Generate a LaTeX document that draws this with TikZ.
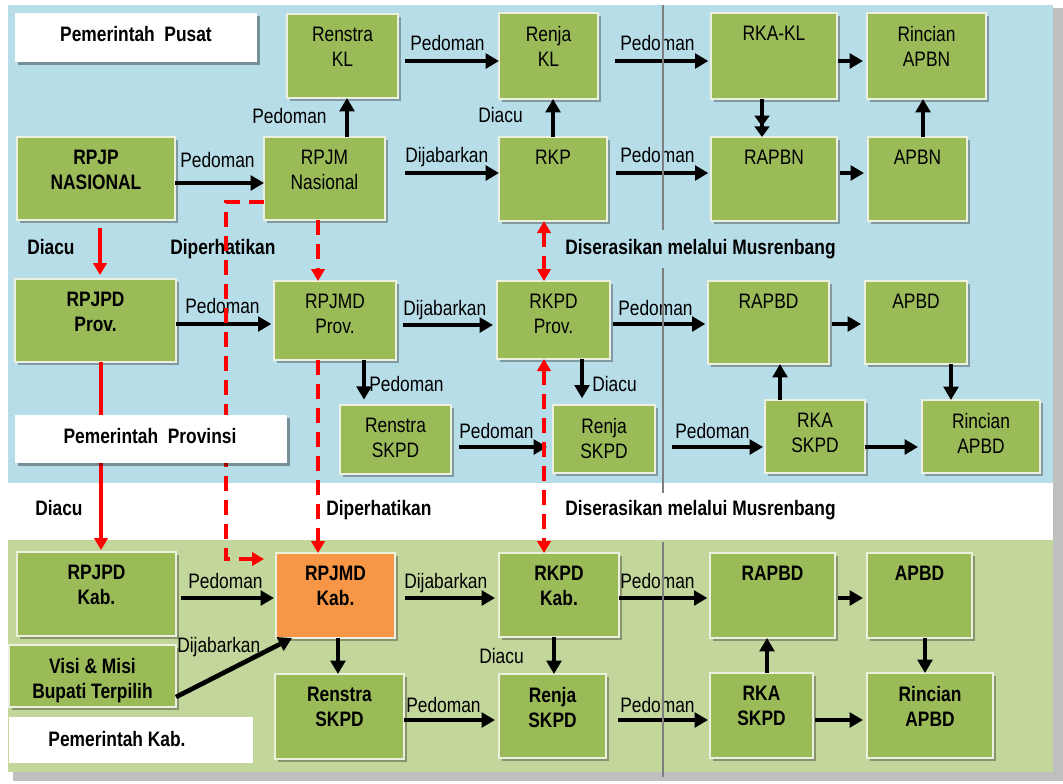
\documentclass[tikz,border=0pt]{standalone}
\usepackage{fontspec}
\setmainfont{Liberation Sans}[FakeStretch=0.83]
\usetikzlibrary{arrows.meta,fit,calc,shadows}
\definecolor{bgblue}{RGB}{183,221,232}
\definecolor{bggreen}{RGB}{195,214,155}
\definecolor{boxgreen}{RGB}{155,187,89}
\definecolor{boxedge}{RGB}{235,241,222}
\definecolor{boxorange}{RGB}{247,150,70}
\definecolor{shadowgray}{RGB}{191,191,191}
\definecolor{divgray}{RGB}{127,127,127}
\definecolor{redline}{RGB}{255,0,0}
\newcommand{\dgfont}{\fontsize{15.7pt}{18.8pt}\selectfont}
\newcommand{\mkbox}[7][box]{%
  \node[#1, fit={(#3,#4) (#5,#6)}] (#2) {};
  \node[#1txt] (#2-t) at ($(#2.north)+(0,13)$) {#7};}
\begin{document}
\begin{tikzpicture}[x=0.75pt,y=-0.75pt,
  box/.style={fill=boxgreen, draw=boxedge, line width=1.5pt, inner sep=0pt, outer sep=0pt,
    drop shadow={shadow xshift=2pt, shadow yshift=-2pt, fill=black, opacity=0.3}},
  kbox/.style={box},
  obox/.style={box, fill=boxorange},
  boxtxt/.style={anchor=north, align=center, inner sep=0pt, font=\dgfont},
  kboxtxt/.style={boxtxt, font=\dgfont\bfseries},
  oboxtxt/.style={kboxtxt},
  lbl/.style={anchor=base west, inner sep=0pt, font=\dgfont},
  blbl/.style={anchor=base west, inner sep=0pt, font=\dgfont\bfseries},
  pembox/.style={fill=white, inner sep=0pt, outer sep=0pt,
    drop shadow={shadow xshift=2.5pt, shadow yshift=-2.5pt, fill=black, opacity=0.35}},
  pembox0/.style={fill=white, inner sep=0pt, outer sep=0pt},
  arr/.style={line width=3.5pt, -{Triangle[length=10pt,width=11pt]}},
  arr2/.style={line width=3.5pt, -{Triangle[length=8pt,width=11pt] Triangle[length=8pt,width=11pt]}},
  redarr/.style={draw=redline, line width=3pt, -{Triangle[length=9pt,width=10pt]}},
  reddash/.style={redarr, dash pattern=on 11pt off 7pt},
  reddash2/.style={draw=redline, line width=3pt, dash pattern=on 11pt off 7pt,
    {Triangle[length=9pt,width=10pt]}-{Triangle[length=9pt,width=10pt]}},
  divline/.style={draw=divgray, line width=1.6pt}
]
\useasboundingbox (0,0) rectangle (1063,783);
% backgrounds
\fill[white] (0,0) rectangle (1063,783);
\fill[shadowgray] (13,8) rectangle (1063,781);
\fill[bgblue] (8,5) rectangle (1053,483);
\fill[white] (8,483) rectangle (1053,540);
\fill[bggreen] (8,540) rectangle (1053,772);

% boxes - national
\mkbox{renstraKL}{287}{14}{398}{98}{Renstra\\KL}
\mkbox{renjaKL}{499}{13}{598}{99}{Renja\\KL}
\mkbox{rkaKL}{711}{13}{837}{99}{RKA-KL}
\mkbox{rincianAPBN}{867}{13}{986}{99}{Rincian\\APBN}
\mkbox[kbox]{rpjpn}{17}{137}{175}{220}{RPJP\\NASIONAL}
\mkbox{rpjm}{264}{137}{385}{220}{RPJM\\Nasional}
\mkbox{rkp}{499}{137}{607}{221}{RKP}
\mkbox{rapbn}{711}{137}{837}{221}{RAPBN}
\mkbox{apbn}{868}{137}{967}{221}{APBN}
% boxes - province
\mkbox[kbox]{rpjpdP}{15}{279}{176}{362}{RPJPD\\Prov.}
\mkbox{rpjmdP}{274}{281}{396}{360}{RPJMD\\Prov.}
\mkbox{rkpdP}{497}{281}{610}{359}{RKPD\\Prov.}
\mkbox{rapbdP}{708}{281}{829}{364}{RAPBD}
\mkbox{apbdP}{865}{281}{967}{364}{APBD}
\mkbox{renstraP}{340}{405}{451}{474}{Renstra\\SKPD}
\mkbox{renjaP}{553}{405}{655}{473}{Renja\\SKPD}
\mkbox{rkaP}{765}{400}{865}{473}{RKA\\SKPD}
\mkbox{rincianP}{922}{400}{1040}{473}{Rincian\\APBD}
% boxes - kabupaten
\mkbox[kbox]{rpjpdK}{17}{552}{176}{636}{RPJPD\\Kab.}
\mkbox[obox]{rpjmdK}{276}{553}{395}{638}{RPJMD\\Kab.}
\mkbox[kbox]{rkpdK}{499}{553}{619}{637}{RKPD\\Kab.}
\mkbox[kbox]{rapbdK}{710}{553}{835}{638}{RAPBD}
\mkbox[kbox]{apbdK}{867}{553}{972}{638}{APBD}
\mkbox[kbox]{visi}{9}{645}{176}{707}{Visi \& Misi\\Bupati Terpilih}
\mkbox[kbox]{renstraK}{275}{674}{404}{759}{Renstra\\SKPD}
\mkbox[kbox]{renjaK}{499}{674}{606}{758}{Renja\\SKPD}
\mkbox[kbox]{rkaK}{710}{673}{813}{758}{RKA\\SKPD}
\mkbox[kbox]{rincianK}{867}{673}{993}{758}{Rincian\\APBD}

% connector labels
\node[lbl] (lb1) at (180,167) {Pedoman};
\node[lbl] (lb2) at (252,123) {Pedoman};
\node[lbl] (lb3) at (410,50) {Pedoman};
\node[lbl] (lb4) at (405,162) {Dijabarkan};
\node[lbl] (lb5) at (478,122) {Diacu};
\node[lbl] (lb6) at (620,50) {Pedoman};
\node[lbl] (lb7) at (620,162) {Pedoman};
\node[lbl] (lb8) at (185,313) {Pedoman};
\node[lbl] (lb9) at (403,315) {Dijabarkan};
\node[lbl] (lb10) at (618,315) {Pedoman};
\node[lbl] (lb11) at (369,391) {Pedoman};
\node[lbl] (lb12) at (592,391) {Diacu};
\node[lbl] (lb13) at (459,438) {Pedoman};
\node[lbl] (lb14) at (675,438) {Pedoman};
\node[lbl] (lb15) at (188,588) {Pedoman};
\node[lbl] (lb16) at (177,652) {Dijabarkan};
\node[lbl] (lb17) at (404,588) {Dijabarkan};
\node[lbl] (lb18) at (479,663) {Diacu};
\node[lbl] (lb19) at (406,712) {Pedoman};
\node[lbl] (lb20) at (620,588) {Pedoman};
\node[lbl] (lb21) at (620,712) {Pedoman};
\node[blbl] (bl1) at (27,254) {Diacu};
\node[blbl] (bl2) at (170,254) {Diperhatikan};
\node[blbl] (bl3) at (565,254) {Diserasikan melalui Musrenbang};
\node[blbl] (bl4) at (35,515) {Diacu};
\node[blbl] (bl5) at (326,515) {Diperhatikan};
\node[blbl] (bl6) at (565,515) {Diserasikan melalui Musrenbang};

% black arrows - national
\draw[arr] (rpjpn.east |- 0,183) -- (rpjm.west |- 0,183);
\draw[arr] (rpjm.north -| 347,0) -- (renstraKL.south -| 347,0);
\draw[arr, shorten <=5pt] (renstraKL.east |- 0,61) -- (renjaKL.west |- 0,61);
\draw[arr, shorten <=15pt] (rpjm.east |- 0,173) -- (rkp.west |- 0,173);
\draw[arr] (rkp.north -| 553,0) -- (renjaKL.south -| 553,0);
\draw[arr, shorten <=13pt, shorten >=2pt] (renjaKL.east |- 0,61) -- (rkaKL.west |- 0,61);
\draw[arr, shorten <=7pt, shorten >=2pt] (rkp.east |- 0,173) -- (rapbn.west |- 0,173);
\draw[arr, shorten <=1pt, shorten >=3pt] (rkaKL.east |- 0,61) -- (rincianAPBN.west |- 0,61);
\draw[arr2] (rkaKL.south -| 762,0) -- (rapbn.north -| 762,0);
\draw[arr, shorten <=2pt, shorten >=3pt] (rapbn.east |- 0,173) -- (apbn.west |- 0,173);
\draw[arr] (apbn.north -| 923,0) -- (rincianAPBN.south -| 923,0);
% black arrows - province
\draw[arr, shorten >=2pt] (rpjpdP.east |- 0,324) -- (rpjmdP.west |- 0,324);
\draw[arr, shorten <=5pt, shorten >=3pt] (rpjmdP.east |- 0,325) -- (rkpdP.west |- 0,325);
\draw[arr, shorten <=2pt, shorten >=2pt] (rkpdP.east |- 0,324) -- (rapbdP.west |- 0,324);
\draw[arr, shorten <=2pt, shorten >=3pt] (rapbdP.east |- 0,324) -- (apbdP.west |- 0,324);
\draw[arr] (apbdP.south -| 951,0) -- (rincianP.north -| 951,0);
\draw[arr] (rkaP.north -| 780,0) -- (rapbdP.south -| 780,0);
\draw[arr, shorten >=3pt] (rkaP.east |- 0,447) -- (rincianP.west |- 0,447);
\draw[arr, shorten <=12.75pt, shorten >=1.5pt] (renjaP.east |- 0,447) -- (rkaP.west |- 0,447);
\draw[arr, shorten >=4pt] (rpjmdP.south -| 364,0) -- (renstraP.north -| 364,0);
\draw[arr, shorten <=6pt, shorten >=4.5pt] (renstraP.east |- 0,447) -- (renjaP.west |- 0,447);
\draw[arr, shorten >=5pt] (rkpdP.south -| 582,0) -- (renjaP.north -| 582,0);
% black arrows - kabupaten
\draw[arr, shorten <=4pt, shorten >=1.5pt] (rpjpdK.east |- 0,598) -- (rpjmdK.west |- 0,598);
\draw[arr] (visi.east |- 0,697) -- ([xshift=12pt]rpjmdK.south west);
\draw[arr, shorten <=7.5pt, shorten >=3pt] (rpjmdK.east |- 0,598) -- (rkpdK.west |- 0,598);
\draw[arr] (rpjmdK.south -| 338,0) -- (renstraK.north -| 338,0);
\draw[arr, shorten >=3pt] (renstraK.east |- 0,720) -- (renjaK.west |- 0,720);
\draw[arr] (rkpdK.south -| 554,0) -- (renjaK.north -| 554,0);
\draw[arr, shorten >=2pt] (rkpdK.east |- 0,598) -- (rapbdK.west |- 0,598);
\draw[arr, shorten <=2pt, shorten >=3pt] (rapbdK.east |- 0,598) -- (apbdK.west |- 0,598);
\draw[arr] (apbdK.south -| 925,0) -- (rincianK.north -| 925,0);
\draw[arr] (rkaK.north -| 767,0) -- (rapbdK.south -| 767,0);
\draw[arr, shorten <=9pt, shorten >=1.5pt] (renjaK.east |- 0,720) -- (rkaK.west |- 0,720);
\draw[arr, shorten <=1.5pt, shorten >=3pt] (rkaK.east |- 0,720) -- (rincianK.west |- 0,720);

% red connectors
\draw[redarr, shorten <=6pt, shorten >=3pt] (rpjpn.south -| 100,0) -- (rpjpdP.north -| 100,0);
\draw[redarr, shorten >=1.5pt] (rpjpdP.south -| 101,0) -- (rpjpdK.north -| 101,0);
\draw[reddash] (rpjm.south -| 318,0) -- (rpjmdP.north -| 318,0);
\draw[reddash] (rpjmdP.south -| 318,0) -- (rpjmdK.north -| 318,0);
\coordinate (rc1) at (226,202);
\coordinate (rc2) at (226,559);
\draw[reddash, shorten >=9pt] (rpjm.west |- rc1) -- (rc1) -- (rc2) -- (rpjmdK.west |- rc2);
\draw[reddash2] (rkp.south -| 544,0) -- (rkpdP.north -| 544,0);
\draw[reddash2] (rkpdP.south -| 544,0) -- (rkpdK.north -| 544,0);

% government labels
\node[pembox, fit={(15,13) (257,62)}] (pemPusat) {};
\node[blbl, anchor=base] (pemPusat-t) at (136,41) {Pemerintah\ \ Pusat};
\node[pembox, fit={(15,415) (287,463)}] (pemProv) {};
\node[blbl, anchor=base] (pemProv-t) at (150,443) {Pemerintah\ \ Provinsi};
\node[pembox0, fit={(9,717) (253,763)}] (pemKab) {};
\node[blbl, anchor=base] (pemKab-t) at (117,746) {Pemerintah Kab.};

% divider line
\draw[divline] (663,5) -- (663,230);
\draw[divline] (663,268) -- (663,493);
\draw[divline] (663,542) -- (663,777);
\end{tikzpicture}
\end{document}
